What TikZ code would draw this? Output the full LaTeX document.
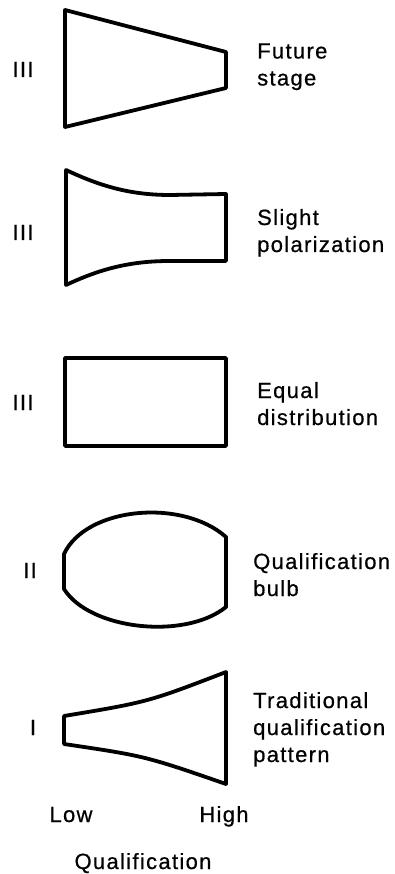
\documentclass[tikz,border=0pt]{standalone}
\usepackage{fontspec}
\setmainfont[LetterSpace=6,FakeBold=0.6]{Liberation Sans}
\begin{document}
\begin{tikzpicture}[x=1pt,y=-1pt,
  outline/.style={line width=3.8pt,line join=round,draw=black},
  lbl/.style={inner sep=0pt,anchor=base west,align=left,font=\fontsize{22}{27}\selectfont},
  num/.style={inner sep=0pt,anchor=base,font=\fontsize{22}{27}\selectfont}]
\useasboundingbox (0,0) rectangle (395,874);
% 1 Future stage
\draw[outline] (65,10) -- (226,52) -- (226,88) -- (65,127) -- cycle;
\node[num] (n1) at (23,77) {III};
\node[lbl] (t1) at (257,85.5) {Future\\stage};
% 2 Slight polarization
\draw[outline] (66,170) .. controls (100,186) and (130,195) .. (170,195) -- (226,194)
  -- (226,261) -- (170,261) .. controls (130,261) and (100,269) .. (66,285) -- cycle;
\node[num] (n2) at (23,240) {III};
\node[lbl] (t2) at (257,252) {Slight\\polarization};
% 3 Equal distribution
\draw[outline] (65,358) rectangle (226,446);
\node[num] (n3) at (23,410) {III};
\node[lbl] (t3) at (257,425) {Equal\\distribution};
% 4 Qualification bulb
\draw[outline] (64,589) -- (64,554) .. controls (86,507) and (182,498) .. (226,537)
  -- (226,607) .. controls (185,640) and (90,630) .. (64,589) -- cycle;
\node[num] (n4) at (30,578) {II};
\node[lbl] (t4) at (253,596) {Qualification\\bulb};
% 5 Traditional qualification pattern
\draw[outline] (64,716) .. controls (148,702) .. (226,672) -- (226,784)
  .. controls (145,756) .. (64,744) -- cycle;
\node[num] (n5) at (33,735) {I};
\node[lbl] (t5) at (253,762) {Traditional\\qualification\\pattern};
% axis labels
\node[num] (low) at (71,822) {Low};
\node[num] (high) at (224,822) {High};
\node[num] (q) at (143,869) {Qualification};
\end{tikzpicture}
\end{document}
